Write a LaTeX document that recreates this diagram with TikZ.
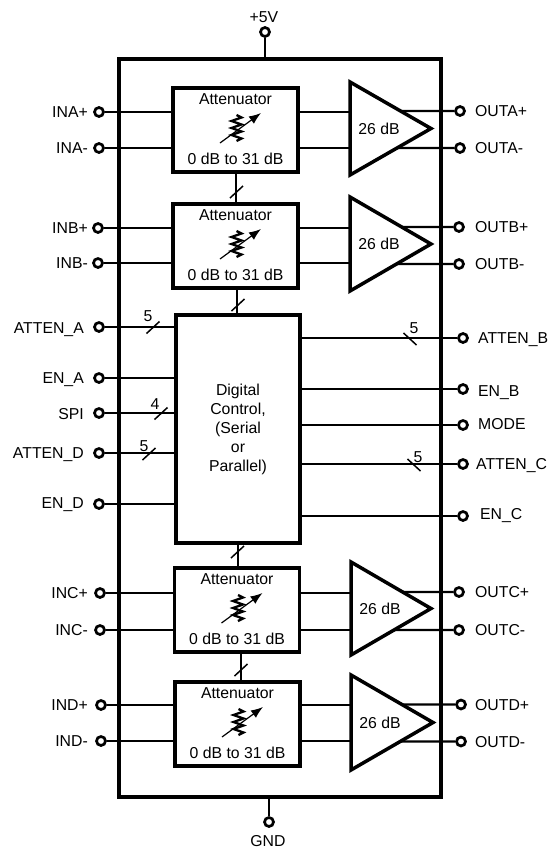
\documentclass[tikz,border=0pt]{standalone}
\usepackage{fontspec}
\setmainfont{Liberation Sans}
\usepackage{tikz}
\usetikzlibrary{arrows.meta,calc,positioning}

\tikzset{
    chipline/.style={line width=3.5pt},
    wire/.style={line width=2.2pt},
    term/.style={circle,draw,line width=2.7pt,fill=white,inner sep=0pt,minimum size=9pt},
    pinlabel/.style={font=\fontsize{15.8}{18}\selectfont,inner sep=0pt},
    boxlabel/.style={font=\fontsize{15.8}{18}\selectfont,inner sep=0pt},
    attbox/.style={draw,line width=3.3pt,minimum width=125pt,minimum height=84pt,inner sep=0pt},
    busslash/.style={line width=1.5pt},
}

\begin{document}
\begin{tikzpicture}[x=1pt,y=-1pt]
    \useasboundingbox (0,0) rectangle (548,849);
    % Package outline
    \node[draw,line width=3.5pt,minimum width=322pt,minimum height=738pt,inner sep=0pt] (chip) at (280,428) {};
    % Supply pins
    \node[term] (vcc) at (265,32) {};
    \node[pinlabel] (vcclabel) at (264,17) {+5V};
    \node[term] (gnd) at (269,822) {};
    \node[pinlabel] (gndlabel) at (268,841) {GND};
    \draw[wire] (vcc) -- (vcc |- chip.north);
    \draw[wire] (gnd) -- (gnd |- chip.south);
    % Attenuator and amplifier channels
    % name, box x, box y, triangle x, top, bottom, tip, pin x left, right, in+, in-, out+, out-
    \foreach \ch/\bx/\by/\tx/\ttop/\tbot/\tip/\lx/\rx/\inp/\inn/\outp/\outn in {
        A/235.5/130/350/82/175/431/99/460/112/148/111/148,
        B/235.5/246/350/197/291/431/98/459/228/263/227/264,
        C/237/610/351/562/655/431/100/459/593/630/592/630,
        D/237.5/724/351/675/770/433/101/461/705/741/704.5/741.5}{
        \node[attbox] (att\ch) at (\bx,\by) {};
        \node[boxlabel,below=7pt of att\ch.north] (atttop\ch) {Attenuator};
        \node[boxlabel,above=9pt of att\ch.south] (attbot\ch) {0 dB to 31 dB};
        % Variable resistor
        \draw[line width=2.3pt] ($(att\ch.center)+(1,-15)$) -- ++(5,2.5) -- ++(-10,3.5) -- ++(10,3.5) -- ++(-10,3.5) -- ++(10,3.5) -- ++(-10,3.5) -- ++(10,3.5) -- ++(-5,2.5);
        \draw[line width=1.2pt,-{Latex[length=12pt,width=9pt]}] ($(att\ch.center)+(-15.5,13)$) -- ++(41,-30);
        % Amplifier
        \coordinate (amptop\ch) at (\tx,\ttop);
        \coordinate (ampbot\ch) at (\tx,\tbot);
        \coordinate (amptip\ch) at (\tip,{(\ttop+\tbot)/2});
        \draw[chipline,line join=miter] (amptop\ch) -- (amptip\ch) -- (ampbot\ch) -- cycle;
        \node[boxlabel] (ampgain\ch) at (\tx+29,{(\ttop+\tbot)/2}) {26 dB};
        % Pins
        \node[term] (in\ch p) at (\lx,\inp) {};
        \node[term] (in\ch n) at (\lx,\inn) {};
        \node[term] (out\ch p) at (\rx,\outp) {};
        \node[term] (out\ch n) at (\rx,\outn) {};
        \node[pinlabel,anchor=base east] (inlabel\ch p) at (88,\inp+5.5) {IN\ch+};
        \node[pinlabel,anchor=base east] (inlabel\ch n) at (88,\inn+5.5) {IN\ch-};
        \node[pinlabel,anchor=base west] (outlabel\ch p) at (475,\outp+5.5) {OUT\ch+};
        \node[pinlabel,anchor=base west] (outlabel\ch n) at (475,\outn+5.5) {OUT\ch-};
        \draw[wire] (in\ch p) -- (in\ch p -| att\ch.west);
        \draw[wire] (in\ch n) -- (in\ch n -| att\ch.west);
        \draw[wire] (in\ch p -| att\ch.east) -- (in\ch p -| amptop\ch);
        \draw[wire] (in\ch n -| att\ch.east) -- (in\ch n -| amptop\ch);
        \draw[wire] (out\ch p) -- ($(amptop\ch)!{(\outp-\ttop)/((\tbot-\ttop)/2)}!(amptip\ch)$);
        \draw[wire] (out\ch n) -- ($(ampbot\ch)!{(\tbot-\outn)/((\tbot-\ttop)/2)}!(amptip\ch)$);
    }
    % Digital control
    \node[draw,line width=3.5pt,minimum width=124pt,minimum height=228pt,align=center,font=\fontsize{15.8}{19}\selectfont,inner sep=0pt] (ctrl) at (238,429) {Digital\\Control,\\(Serial\\or\\Parallel)};
    % Control pins, left
    \foreach \nm/\y/\ly/\lbl in {atna/327/328/ATTEN\_A,ena/378/378/EN\_A,spi/413/414/SPI,atnd/453/453/ATTEN\_D,end/504/503/EN\_D}{
        \node[term] (\nm) at (99,\y) {};
        \node[pinlabel,anchor=base east] (\nm label) at (84,\ly+5.5) {\lbl};
        \draw[wire] (\nm) -- (\nm -| ctrl.west);
    }
    % Control pins, right
    \foreach \nm/\y/\ly/\lx/\lbl in {atnb/338/338/478/ATTEN\_B,enb/389/391/478/EN\_B,mode/425/424/478/MODE,atnc/464/464/476/ATTEN\_C,enc/516/514/480/EN\_C}{
        \node[term] (\nm) at (463,\y) {};
        \node[pinlabel,anchor=base west] (\nm label) at (\lx,\ly+5.5) {\lbl};
        \draw[wire] (\nm) -- (\nm -| ctrl.east);
    }
    % Vertical buses
    \draw[wire] (attA.south -| 236,0) -- (attB.north -| 236,0);
    \draw[wire] (attB.south -| 237,0) -- (ctrl.north -| 237,0);
    \draw[wire] (ctrl.south -| 238,0) -- (attC.north -| 238,0);
    \draw[wire] (attC.south -| 241,0) -- (attD.north -| 241,0);
    % Bus slashes and widths
    \foreach \x/\y in {236.5/192,238/305,237.5/552,241/670,153/327.5,161/413.5,149/454}{
        \draw[busslash] (\x-6.5,\y+6) -- (\x+6.5,\y-6);
    }
    \foreach \x/\y in {410/339,414/465}{
        \draw[busslash] (\x-6.5,\y-6) -- (\x+6.5,\y+6);
    }
    \node[boxlabel] (busa) at (148,316) {5};
    \node[boxlabel] (busspi) at (155,404) {4};
    \node[boxlabel] (busd) at (144,446) {5};
    \node[boxlabel] (busb) at (414,328) {5};
    \node[boxlabel] (busc) at (418,457) {5};
\end{tikzpicture}
\end{document}
